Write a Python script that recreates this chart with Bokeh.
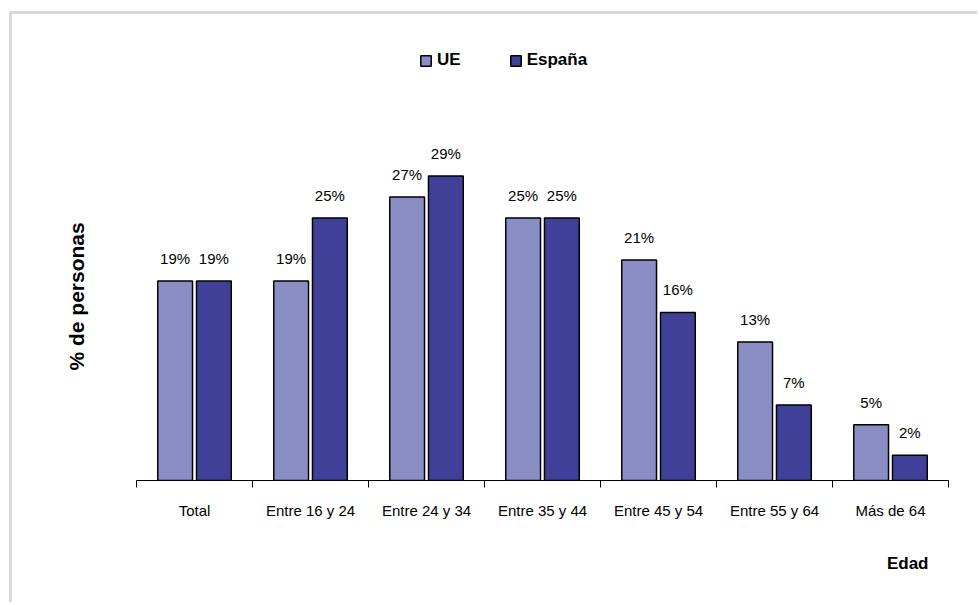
import numpy as np
from bokeh.plotting import figure
from bokeh.models import (Range1d, FixedTicker, Legend, LegendItem, ColumnDataSource, Title)
from bokeh.embed import file_html
from bokeh.resources import INLINE
from bokeh.core.properties import value

categories = ["Total", "Entre 16 y 24", "Entre 24 y 34", "Entre 35 y 44",
              "Entre 45 y 54", "Entre 55 y 64", "Más de 64"]
ue_values = [19, 19, 27, 25, 21, 13.2, 5.3]
es_values = [19, 25, 29, 25, 16, 7.2, 2.4]
ue_labels = ["19%", "19%", "27%", "25%", "21%", "13%", "5%"]
es_labels = ["19%", "25%", "29%", "25%", "16%", "7%", "2%"]

UE_COLOR = "#8B8EC4"
ES_COLOR = "#404098"
FONT = "Liberation Sans"

idx = np.arange(len(categories))
off = 0.167
bw = 0.30

src_ue = ColumnDataSource(dict(x=idx - off, top=ue_values, lab=ue_labels))
src_es = ColumnDataSource(dict(x=idx + off, top=es_values, lab=es_labels))

p = figure(width=968, height=591, output_backend="svg", toolbar_location=None,
           x_range=Range1d(-0.5, 6.5), y_range=Range1d(0, 41.9),
           min_border_left=124, min_border_right=32, min_border_top=26,
           min_border_bottom=125)
p.styles = {"border-left": "3px solid #d9d9d9", "border-top": "3px solid #d9d9d9",
            "margin-left": "9px", "margin-top": "11px"}
p.outline_line_color = None
p.xgrid.visible = False
p.ygrid.visible = False
p.yaxis.visible = False

r1 = p.vbar(x="x", top="top", width=bw, source=src_ue, fill_color=UE_COLOR,
            line_color="black", line_width=1.5)
r2 = p.vbar(x="x", top="top", width=bw, source=src_es, fill_color=ES_COLOR,
            line_color="black", line_width=1.5)

for s in (src_ue, src_es):
    p.text(x="x", y="top", text="lab", source=s, text_align="center",
           text_baseline="bottom", y_offset=-14, text_font=value(FONT),
           text_font_size="15px", text_color="black")

xa = p.xaxis[0]
xa.ticker = FixedTicker(ticks=list(idx), minor_ticks=list(np.arange(-0.5, 7.0, 1.0)))
xa.major_label_overrides = {int(i): c for i, c in zip(idx, categories)}
xa.major_tick_out = 0
xa.major_tick_in = 0
xa.minor_tick_out = 7
xa.minor_tick_in = 0
xa.minor_tick_line_color = "black"
xa.axis_line_color = "black"
xa.major_label_standoff = 14
xa.major_label_text_font = FONT
xa.major_label_text_font_size = "15px"
xa.major_label_text_color = "black"

t = Title(text="Edad", align="right", text_font=FONT, text_font_size="17px",
          text_font_style="bold", text_color="black", offset=20, standoff=61)
p.add_layout(t, "below")

yt = Title(text="% de personas", align="left", text_font=FONT,
           text_font_size="21px", text_font_style="bold", text_color="black",
           offset=110, standoff=98)
p.add_layout(yt, "left")

legend = Legend(items=[LegendItem(label="UE", renderers=[r1]),
                       LegendItem(label="España", renderers=[r2])],
                orientation="horizontal", location=(283, 409),
                glyph_width=13, glyph_height=13, label_standoff=5, spacing=48,
                padding=0, margin=0, border_line_color=None,
                background_fill_alpha=0, label_text_font=FONT,
                label_text_font_size="17px", label_text_font_style="bold",
                label_text_color="black", label_height=22)
p.add_layout(legend, "center")

open("out.html", "w").write(file_html(p, INLINE))
